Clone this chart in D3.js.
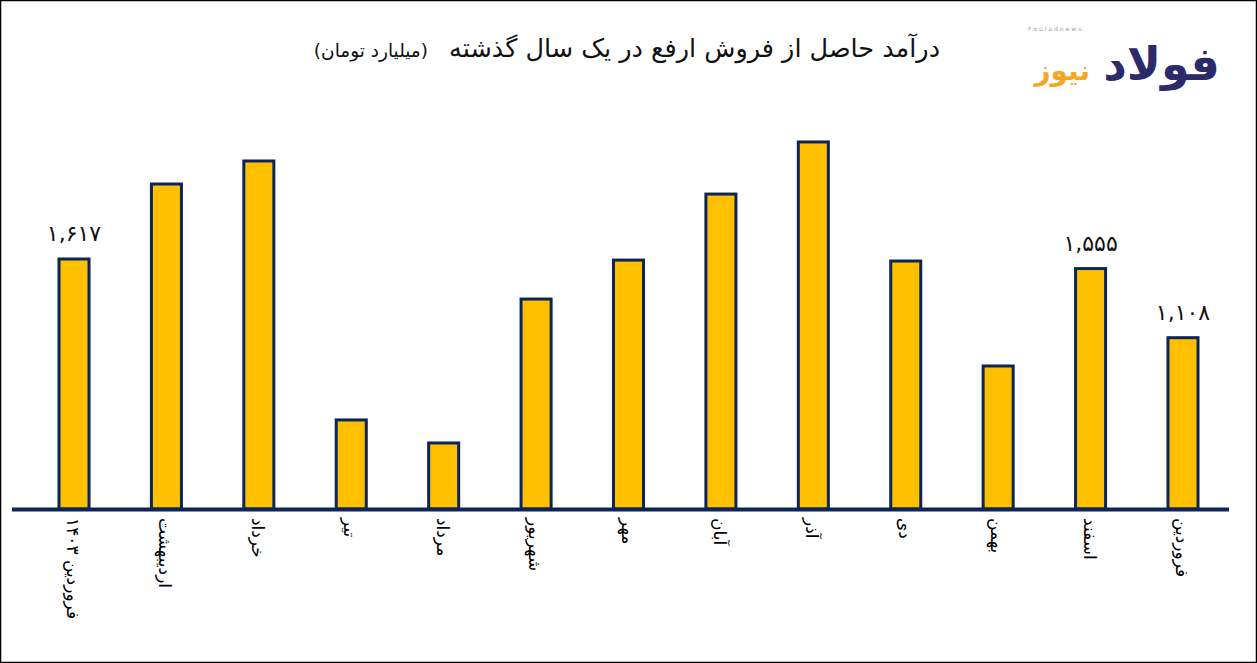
<!DOCTYPE html><html><head><meta charset="utf-8"><script src="https://cdn.jsdelivr.net/npm/d3@7"></script>
<style>body{margin:0;background:#fff}</style></head><body><svg id="c" width="1257" height="663"></svg>
<script>
const categories=["فروردین ۱۴۰۳","اردیبهشت","خرداد","تیر","مرداد","شهریور","مهر","آبان","آذر","دی","بهمن","اسفند","فروردین"];
const values=[1617,2102,2251,576,427,1358,1610,2037,2374,1604,925,1555,1108];
const shownLabels={0:"۱,۶۱۷",11:"۱,۵۵۵",12:"۱,۱۰۸"};
const svg=d3.select("#c");
svg.append("rect").attr("x",0.5).attr("y",0.5).attr("width",1256).attr("height",662).attr("fill","#fff").attr("stroke","#000").attr("stroke-width",1.5);
const x=d3.scaleBand().domain(d3.range(categories.length)).range([74-46.2,1183+46.2]).paddingInner(0.675).paddingOuter(0.3375);
const y=d3.scaleLinear().domain([0,1617]).range([509,259]);
svg.selectAll("rect.b").data(values).join("rect").attr("class","b")
 .attr("x",(d,i)=>x(i)).attr("width",x.bandwidth()).attr("y",d=>y(d)).attr("height",d=>509-y(d))
 .attr("fill","#FFC000").attr("stroke","#0B2559").attr("stroke-width",3);
svg.append("line").attr("x1",12).attr("x2",1229).attr("y1",509.5).attr("y2",509.5).attr("stroke","#0B2559").attr("stroke-width",4);
svg.selectAll("text.v").data(Object.keys(shownLabels)).join("text").attr("class","v")
 .attr("x",i=>x(+i)+x.bandwidth()/2).attr("y",i=>y(values[i])-18).attr("text-anchor","middle")
 .attr("font-family","DejaVu Sans").attr("font-size",22).attr("fill","#111").text(i=>shownLabels[i]);
svg.selectAll("text.c").data(categories).join("text").attr("class","c")
 .attr("transform",(d,i)=>`translate(${x(i)+x.bandwidth()/2-7},518) rotate(90)`)
 .attr("text-anchor","start").attr("font-family","DejaVu Sans").attr("font-size",17).attr("fill","#000").text(d=>d);
svg.append("text").attr("x",940).attr("y",57).attr("text-anchor","end").attr("font-family","DejaVu Sans").attr("font-size",25.5).attr("fill","#111").text("درآمد حاصل از فروش ارفع در یک سال گذشته");
svg.append("text").attr("x",428).attr("y",57).attr("text-anchor","end").attr("font-family","DejaVu Sans").attr("font-size",18.5).attr("fill","#111").text("(میلیارد تومان)");
svg.append("text").attr("x",1028).attr("y",31).attr("font-family","DejaVu Sans").attr("font-size",6).attr("letter-spacing",2).attr("fill","#999").text("Fouladnews");
svg.append("text").attr("x",1220).attr("y",80).attr("text-anchor","end").attr("font-family","DejaVu Sans").attr("font-weight","bold").attr("font-size",46).attr("fill","#2B2A6B").text("فولاد");
svg.append("text").attr("x",1090).attr("y",80).attr("text-anchor","end").attr("font-family","DejaVu Sans").attr("font-weight","bold").attr("font-size",28).attr("fill","#F5A623").text("نیوز");
</script></body></html>
